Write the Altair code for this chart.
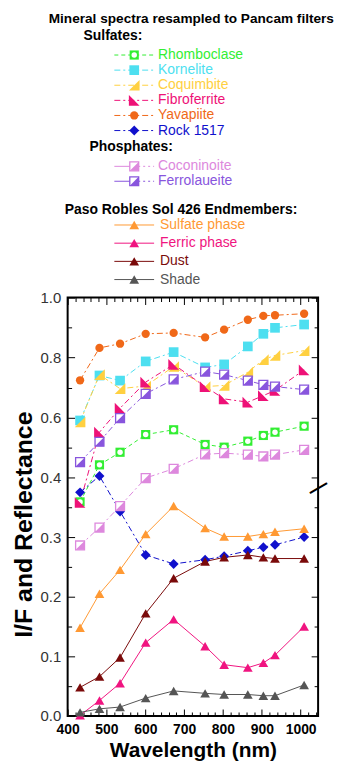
import altair as alt
import pandas as pd

# ---------------- data ----------------
wavelength_nm = [432, 482, 535, 601, 673, 754, 803, 864, 904, 934, 1009]

rhomboclase = [0.359, 0.442, 0.484, 0.543, 0.559, 0.510, 0.501, 0.521, 0.540, 0.551, 0.571]
kornelite = [0.590, 0.740, 0.723, 0.787, 0.818, 0.767, 0.777, 0.837, 0.879, 0.899, 0.910]
coquimbite = [0.585, 0.743, 0.696, 0.705, 0.770, 0.703, 0.707, 0.751, 0.793, 0.807, 0.823]
fibroferrite = [0.358, 0.551, 0.631, 0.718, 0.777, 0.703, 0.662, 0.651, 0.673, 0.690, 0.759]
yavapiite = [0.724, 0.832, 0.846, 0.879, 0.882, 0.867, 0.893, 0.926, 0.939, 0.941, 0.946]
rock_1517 = [0.375, 0.405, 0.343, 0.270, 0.255, 0.262, 0.268, 0.277, 0.283, 0.287, 0.300]
coconinoite = [0.286, 0.316, 0.352, 0.399, 0.429, 0.477, 0.481, 0.476, 0.470, 0.476, 0.492]
ferrolaueite = [0.451, 0.519, 0.598, 0.679, 0.727, 0.753, 0.743, 0.723, 0.709, 0.703, 0.693]
sulfate_phase = [0.148, 0.205, 0.245, 0.305, 0.352, 0.315, 0.301, 0.301, 0.305, 0.309, 0.314]
ferric_phase = [0.001, 0.026, 0.055, 0.123, 0.162, 0.117, 0.086, 0.081, 0.089, 0.102, 0.150]
dust = [0.048, 0.066, 0.098, 0.172, 0.231, 0.259, 0.266, 0.270, 0.266, 0.264, 0.264]
shade = [0.006, 0.012, 0.015, 0.030, 0.042, 0.038, 0.036, 0.036, 0.034, 0.034, 0.052]

series_names = ["Rhomboclase", "Kornelite", "Coquimbite", "Fibroferrite", "Yavapiite", "Rock 1517",
                "Coconinoite", "Ferrolaueite",
                "Sulfate phase", "Ferric phase", "Dust", "Shade"]
series_colors = ["#33ee33", "#4ddff0", "#ffd040", "#ee1177", "#f06818", "#1010cc",
                 "#dd88dd", "#8855dd",
                 "#ff9933", "#f01480", "#7a0a0a", "#555555"]
series_values = [rhomboclase, kornelite, coquimbite, fibroferrite, yavapiite, rock_1517,
                 coconinoite, ferrolaueite, sulfate_phase, ferric_phase, dust, shade]

chart_heading = "Mineral spectra resampled to Pancam filters"
group_headings = ["Sulfates:", "Phosphates:", "Paso Robles Sol 426 Endmembers:"]

x_major_ticks = [400, 500, 600, 700, 800, 900, 1000]
x_minor_ticks = [420, 440, 460, 480, 520, 540, 560, 580, 620, 640, 660, 680, 720, 740, 760, 780,
                 820, 840, 860, 880, 920, 940, 960, 980, 1020, 1040]
y_major_ticks = [0.0, 0.1, 0.2, 0.3, 0.4, 0.6, 0.8, 1.0]
y_minor_ticks = [0.05, 0.15, 0.25, 0.35, 0.5, 0.7, 0.9]
y_axis_break = [0.383]

rows = []
for name, vals in zip(series_names, series_values):
    for w, v in zip(wavelength_nm, vals):
        rows.append({"series": name, "wavelength": w, "value": v})
df = pd.DataFrame(rows)
legend_df = pd.DataFrame({"series": series_names})
heading_df = pd.DataFrame({"heading": [chart_heading] + group_headings})

# ---------------- styles ----------------
FONT = "Liberation Sans"
W, H = 252, 421
Y_SPLIT_PX = 181
TRI_BR = "M 1 -1 L 1 1 L -1 1 Z"
TRI_BL = "M -1 -1 L 1 1 L -1 1 Z"
DASH_SHORT = [4, 3]
DASH_DOT = [6, 3, 2, 3]
PHOSPHATES = ("Coconinoite", "Ferrolaueite")


def marker_specs(name, color):
    if name == "Rhomboclase":
        return [dict(shape="square", size=85, filled=True, fill=color, opacity=1, strokeWidth=0),
                dict(shape="circle", size=30, filled=True, fill="white", opacity=1, strokeWidth=0)]
    if name == "Kornelite":
        return [dict(shape="square", size=95, filled=True, fill=color, opacity=1, strokeWidth=0)]
    if name == "Coquimbite":
        return [dict(shape=TRI_BR, size=115, filled=True, fill=color, opacity=1, strokeWidth=0)]
    if name == "Fibroferrite":
        return [dict(shape=TRI_BL, size=115, filled=True, fill=color, opacity=1, strokeWidth=0)]
    if name == "Yavapiite":
        return [dict(shape="circle", size=70, filled=True, fill=color, opacity=1, strokeWidth=0)]
    if name == "Rock 1517":
        return [dict(shape="diamond", size=100, filled=True, fill=color, opacity=1, strokeWidth=0)]
    if name in PHOSPHATES:
        return [dict(shape="square", size=80, filled=True, fill="white", stroke=color, strokeWidth=1.3, opacity=1),
                dict(shape=TRI_BR, size=80, filled=True, fill=color, opacity=1, strokeWidth=0)]
    return [dict(shape="triangle-up", size=95, filled=True, fill=color, opacity=1, strokeWidth=0)]


def line_dash(name):
    if name == "Rhomboclase":
        return DASH_SHORT
    if name in series_names[:8]:
        return DASH_DOT
    return None


# ---------------- plot ----------------
x_scale = alt.Scale(domain=[400, 1045], nice=False, zero=False)
y_scale = alt.Scale(domain=[0, 0.4, 1.0], range=[H, Y_SPLIT_PX, 0], nice=False, zero=False)
base = alt.Chart(df)


def axis_layer(x_orient, y_orient, xvals, yvals, tick, labeled):
    common = dict(domain=False, grid=False, ticks=True, tickColor="black", tickWidth=1,
                  tickSize={"expr": str(-tick)})
    if labeled:
        xa = alt.Axis(orient=x_orient, values=xvals, format="d", labelFlush=False, labelOverlap=False,
                      labelFont=FONT, labelFontSize=14, labelFontWeight="bold", labelColor="black",
                      labelPadding=7 + tick, title="Wavelength (nm)", titleFont=FONT, titleFontSize=21,
                      titleFontWeight="bold", titleColor="black", titlePadding=3, **common)
        ya = alt.Axis(orient=y_orient, values=yvals, format=".1f", labelFlush=False, labelOverlap=False,
                      labelFont=FONT, labelFontSize=15, labelColor="#333333", labelPadding=7 + tick,
                      title="I/F and Reflectance", titleFont=FONT, titleFontSize=25,
                      titleFontWeight="bold", titleColor="black", titlePadding=4, titleY=228,
                      **common)
    else:
        xa = alt.Axis(orient=x_orient, values=xvals, labels=False, title=None, **common)
        ya = alt.Axis(orient=y_orient, values=yvals, labels=False, title=None, **common)
    return base.mark_point(opacity=0).encode(
        x=alt.X("wavelength:Q", scale=x_scale, axis=xa),
        y=alt.Y("value:Q", scale=y_scale, axis=ya),
    )


plot_layers = [
    axis_layer("bottom", "left", x_major_ticks, y_major_ticks, 7, True),
    axis_layer("bottom", "left", x_minor_ticks, y_minor_ticks, 4, False),
    axis_layer("top", "right", x_major_ticks, y_major_ticks, 7, False),
    axis_layer("top", "right", x_minor_ticks, y_minor_ticks, 4, False),
]

enc = dict(x=alt.X("wavelength:Q", scale=x_scale, axis=None),
           y=alt.Y("value:Q", scale=y_scale, axis=None))

for name, color in zip(series_names, series_colors):
    sub = base.transform_filter(alt.datum.series == name)
    d = line_dash(name)
    if d:
        ln = sub.mark_line(color=color, strokeWidth=1, strokeDash=d)
    else:
        ln = sub.mark_line(color=color, strokeWidth=1)
    plot_layers.append(ln.encode(**enc))

for name, color in zip(series_names, series_colors):
    sub = base.transform_filter(alt.datum.series == name)
    for mk in marker_specs(name, color):
        plot_layers.append(sub.mark_point(**mk).encode(**enc))

plot_layers.append(
    alt.Chart(pd.DataFrame({"b": y_axis_break})).mark_text(
        text="\u2014", angle=330, fontSize=20, fontWeight="bold", color="black", font=FONT
    ).encode(x=alt.value(W), y=alt.Y("b:Q", scale=y_scale, axis=None))
)

plot = alt.layer(*plot_layers).resolve_axis(x="independent", y="independent").properties(
    width=W, height=H, view=alt.ViewBackground(stroke="black", strokeWidth=2)
)

# ---------------- legend block (layout positions in pixels, relative to plot's left edge) ----------------
heading_pos = {chart_heading: (-19, 8, 13.7), "Sulfates:": (16, 25, 14), "Phosphates:": (22, 137, 14),
               "Paso Robles Sol 426 Endmembers:": (-3, 200, 14)}
entry_y = {}
for i, n in enumerate(series_names[:6]):
    entry_y[n] = 44 + 15.2 * i
for i, n in enumerate(series_names[6:8]):
    entry_y[n] = 156 + 15 * i
for i, n in enumerate(series_names[8:]):
    entry_y[n] = 215 + 18.3 * i

legend_layers = []
hbase = alt.Chart(heading_df)
for htxt, (hx, hy, hfs) in heading_pos.items():
    legend_layers.append(
        hbase.transform_filter(alt.datum.heading == htxt).mark_text(
            text=htxt, align="left", baseline="middle", font=FONT, fontSize=hfs,
            fontWeight="bold", color="black"
        ).encode(x=alt.value(hx), y=alt.value(hy))
    )

lbase = alt.Chart(legend_df)
for name, color in zip(series_names, series_colors):
    ly = entry_y[name]
    sub = lbase.transform_filter(alt.datum.series == name)
    d = line_dash(name)
    if name in PHOSPHATES:
        legend_layers.append(sub.mark_rule(color=color, strokeWidth=1).encode(
            x=alt.value(47), x2=alt.value(64), y=alt.value(ly)))
        legend_layers.append(sub.mark_rule(color=color, strokeWidth=1, strokeDash=[2, 3]).encode(
            x=alt.value(71), x2=alt.value(87), y=alt.value(ly)))
    else:
        if d:
            rl = sub.mark_rule(color=color, strokeWidth=1, strokeDash=d)
        else:
            rl = sub.mark_rule(color=color, strokeWidth=1)
        legend_layers.append(rl.encode(x=alt.value(47), x2=alt.value(87), y=alt.value(ly)))
    for mk in marker_specs(name, color):
        legend_layers.append(sub.mark_point(**mk).encode(x=alt.value(67), y=alt.value(ly)))
    legend_layers.append(
        sub.mark_text(text=name, align="left", baseline="middle", font=FONT, fontSize=14,
                      color=color).encode(x=alt.value(91 if name in series_names[:8] else 93),
                                          y=alt.value(ly))
    )

legend = alt.layer(*legend_layers).properties(
    width=W, height=288, view=alt.ViewBackground(stroke="transparent")
)

chart = alt.vconcat(legend, plot, spacing=0, bounds="flush").properties(
    padding={"left": 2, "top": 0, "right": 0, "bottom": 0}
)

chart.save("out.html", embed_options={"renderer": "svg", "actions": False})
